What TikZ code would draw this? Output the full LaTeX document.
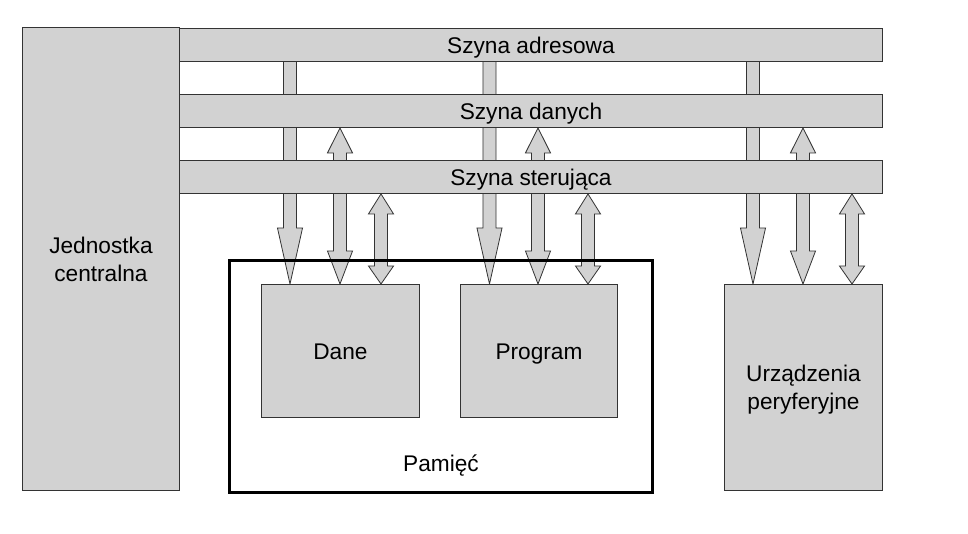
\documentclass[tikz,border=0pt]{standalone}
\usepackage{fontspec}
\setmainfont{Liberation Sans}
\usetikzlibrary{calc,backgrounds}

\definecolor{blockgray}{RGB}{210,210,210}
\newcommand{\sw}{4.9pt}  % half shaft width
\newcommand{\hw}{9.4pt}  % half head width

% one-way fat arrow: start, tip, head length (px)
\newcommand{\fatdown}[3]{%
  \filldraw[fatarrow] let \p1=(#1), \p2=(#2) in
    (\x1-\sw,\y1) -- (\x1-\sw,\y2+#3*0.75pt) -- (\x1-\hw,\y2+#3*0.75pt) -- (\x2,\y2)
    -- (\x1+\hw,\y2+#3*0.75pt) -- (\x1+\sw,\y2+#3*0.75pt) -- (\x1+\sw,\y1);}
% two-way fat arrow: top tip, bottom tip, top head, bottom head (px)
\newcommand{\fatboth}[4]{%
  \filldraw[fatarrow] let \p1=(#1), \p2=(#2) in
    (\x1,\y1) -- (\x1+\hw,\y1-#3*0.75pt) -- (\x1+\sw,\y1-#3*0.75pt)
    -- (\x1+\sw,\y2+#4*0.75pt) -- (\x1+\hw,\y2+#4*0.75pt) -- (\x2,\y2)
    -- (\x1-\hw,\y2+#4*0.75pt) -- (\x1-\sw,\y2+#4*0.75pt)
    -- (\x1-\sw,\y1-#3*0.75pt) -- (\x1-\hw,\y1-#3*0.75pt) -- cycle;}

\tikzset{
  block/.style={draw=black!80, fill=blockgray, line width=0.7pt, inner sep=0pt,
    anchor=north west, align=center, text depth=0pt,
    font=\fontsize{17}{21}\selectfont},
  oneline/.style={text height=12.5pt},
  bus/.style={block, oneline, minimum width=703*0.75pt, minimum height=33*0.75pt},
  fatarrow/.style={draw=black!80, fill=blockgray, line width=0.6pt, line join=miter},
  lbl/.style={font=\fontsize{17}{21}\selectfont, text height=12.5pt, text depth=0pt},
}

\begin{document}
\begin{tikzpicture}[x=0.75pt, y=-0.75pt]
    \useasboundingbox (0,0) rectangle (968,534);

    \node[block, minimum width=157*0.75pt, minimum height=463*0.75pt] (cpu) at (22,27) {Jednostka\\centralna};

    \node[bus] (adr) at (179,28) {Szyna adresowa};
    \node[bus] (dan) at (179,94) {Szyna danych};
    \node[bus] (ster) at (179,160) {Szyna sterująca};

    \node[draw=black, line width=2.2pt, inner sep=0pt, anchor=north west,
          minimum width=423*0.75pt, minimum height=232*0.75pt] (pam) at (228,259) {};
    \node[lbl] (pamlbl) at ($(pam.south)+(0,-31)$) {Pamięć};

    \node[block, oneline, minimum width=158*0.75pt, minimum height=133*0.75pt] (dane) at (261,284) {Dane};
    \node[block, oneline, minimum width=157*0.75pt, minimum height=133*0.75pt] (prog) at (460,284) {Program};
    \node[block, minimum width=158*0.75pt, minimum height=206*0.75pt] (uper) at (724,284) {Urządzenia\\peryferyjne};

    % columns of the bus arrows
    \coordinate (daneA) at ($(dane.north west)+(29,0)$);
    \coordinate (daneD) at ($(dane.north west)+(79,0)$);
    \coordinate (daneS) at ($(dane.north west)+(120,0)$);
    \coordinate (progA) at ($(prog.north west)+(29.5,0)$);
    \coordinate (progD) at ($(prog.north west)+(78,0)$);
    \coordinate (progS) at ($(prog.north west)+(128,0)$);
    \coordinate (uperA) at ($(uper.north west)+(29,0)$);
    \coordinate (uperD) at ($(uper.north west)+(79,0)$);
    \coordinate (uperS) at ($(uper.north west)+(128,0)$);

    \begin{scope}[on background layer]
        \fatdown{adr.south -| daneA}{daneA}{56}
        \fatboth{dan.south -| daneD}{daneD}{25}{33}
        \fatboth{ster.south -| daneS}{daneS}{20}{18}

        \fatdown{adr.south -| progA}{progA}{56}
        \fatboth{dan.south -| progD}{progD}{25}{33}
        \fatboth{ster.south -| progS}{progS}{20}{18}

        \fatdown{adr.south -| uperA}{uperA}{56}
        \fatboth{dan.south -| uperD}{uperD}{25}{33}
        \fatboth{ster.south -| uperS}{uperS}{20}{18}
    \end{scope}
\end{tikzpicture}
\end{document}
